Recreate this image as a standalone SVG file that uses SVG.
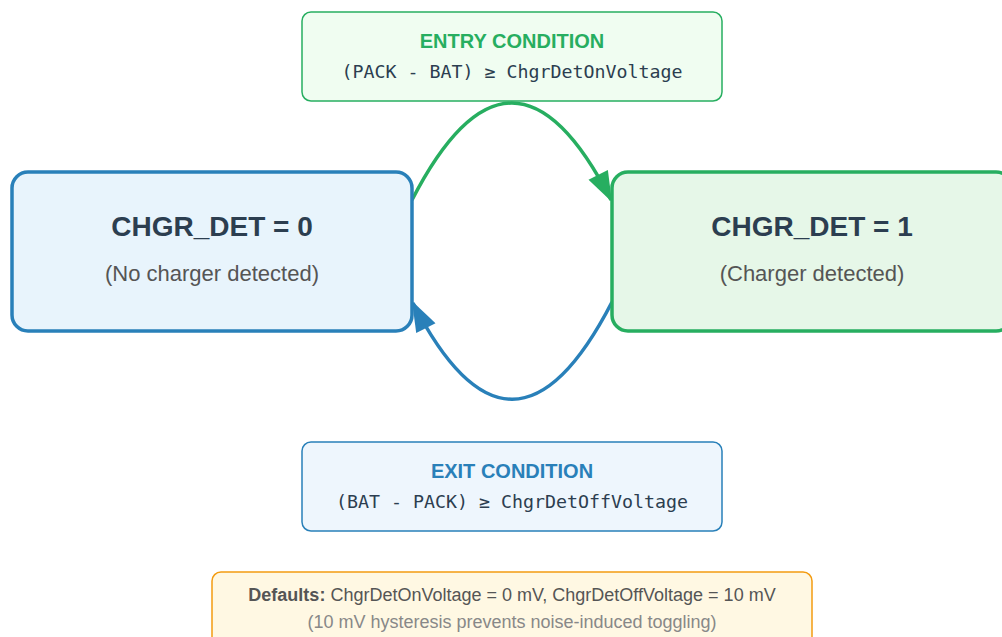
<svg xmlns="http://www.w3.org/2000/svg" width="1002" height="637" viewBox="0 0 1002 637">
  <style>
    .state-title { font-family: "Liberation Sans", Arial, sans-serif; font-weight: bold; font-size: 28px; fill: #2c3e50; text-anchor: middle; }
    .state-sub { font-family: "Liberation Sans", Arial, sans-serif; font-size: 22px; fill: #555555; text-anchor: middle; }
    .cond-title { font-family: "Liberation Sans", Arial, sans-serif; font-weight: bold; font-size: 20px; text-anchor: middle; }
    .cond-expr { font-family: "DejaVu Sans Mono", "Liberation Mono", monospace; font-size: 18.3px; fill: #2c3e50; text-anchor: middle; }
    .note { font-family: "Liberation Sans", Arial, sans-serif; font-size: 18px; text-anchor: middle; }
  </style>
  <defs>
    <marker id="arrow-green" viewBox="0 0 14 10" refX="13" refY="5" markerWidth="9" markerHeight="6.2" markerUnits="strokeWidth" orient="auto">
      <path d="M0,0 L14,5 L0,10 Z" fill="#27ae60"/>
    </marker>
    <marker id="arrow-blue" viewBox="0 0 14 10" refX="13" refY="5" markerWidth="9" markerHeight="6.2" markerUnits="strokeWidth" orient="auto">
      <path d="M0,0 L14,5 L0,10 Z" fill="#2980b9"/>
    </marker>
  </defs>
  <rect width="1002" height="637" fill="#ffffff"/>

  <g id="connectors" fill="none" stroke-width="3.5">
    <path d="M412,200 Q512,6 611,200" stroke="#27ae60" marker-end="url(#arrow-green)"/>
    <path d="M612,302 Q512,496 413,303" stroke="#2980b9" marker-end="url(#arrow-blue)"/>
  </g>

  <g id="state-0">
    <rect x="12" y="172" width="400" height="159" rx="16" fill="#e8f4fc" stroke="#2980b9" stroke-width="3.5"/>
    <text class="state-title" x="212" y="236">CHGR_DET = 0</text>
    <text class="state-sub" x="212" y="281">(No charger detected)</text>
  </g>

  <g id="state-1">
    <rect x="612" y="172" width="400" height="159" rx="16" fill="#e6f7e8" stroke="#27ae60" stroke-width="3.5"/>
    <text class="state-title" x="812" y="236">CHGR_DET = 1</text>
    <text class="state-sub" x="812" y="281">(Charger detected)</text>
  </g>

  <g id="entry-condition">
    <rect x="302" y="12" width="420" height="89" rx="9" fill="#f0fdf1" stroke="#27ae60" stroke-width="1.5"/>
    <text class="cond-title" x="512" y="48" fill="#27ae60">ENTRY CONDITION</text>
    <text class="cond-expr" x="512" y="78">(PACK - BAT) ≥ ChgrDetOnVoltage</text>
  </g>

  <g id="exit-condition">
    <rect x="302" y="442" width="420" height="89" rx="9" fill="#eef6fd" stroke="#2980b9" stroke-width="1.5"/>
    <text class="cond-title" x="512" y="478" fill="#2980b9">EXIT CONDITION</text>
    <text class="cond-expr" x="512" y="508">(BAT - PACK) ≥ ChgrDetOffVoltage</text>
  </g>

  <g id="defaults-note">
    <rect x="212" y="572" width="600" height="80" rx="9" fill="#fff8e3" stroke="#f39c12" stroke-width="1.5"/>
    <text class="note" x="512" y="601" fill="#555555"><tspan font-weight="bold">Defaults:</tspan> ChgrDetOnVoltage = 0 mV, ChgrDetOffVoltage = 10 mV</text>
    <text class="note" x="512" y="628" fill="#888888">(10 mV hysteresis prevents noise-induced toggling)</text>
  </g>
</svg>
